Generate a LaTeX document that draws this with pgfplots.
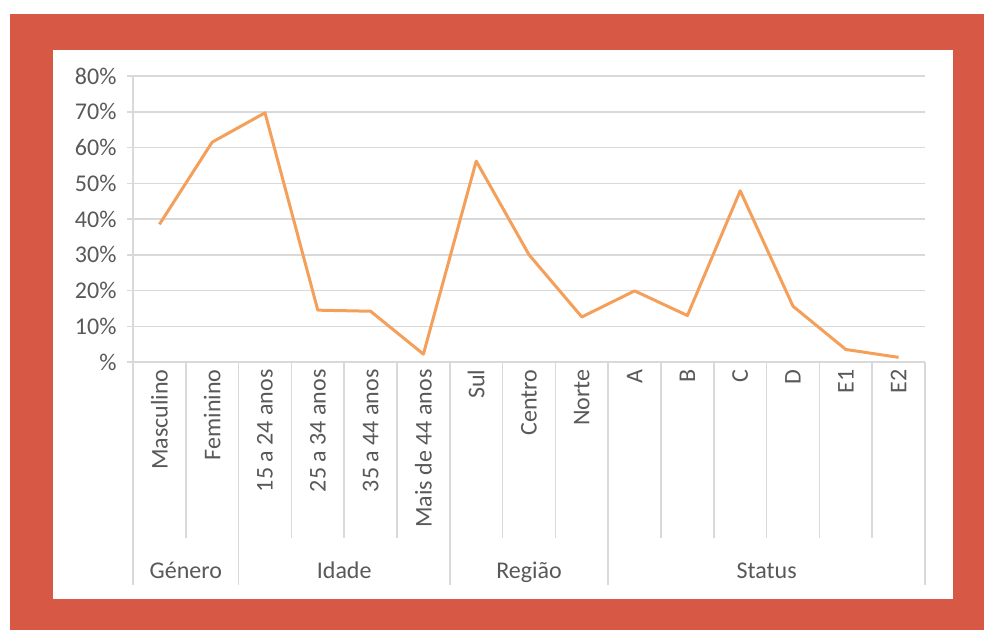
\documentclass[border=0pt]{standalone}
\usepackage{pgfplots}
\pgfplotsset{compat=1.18}
\usepackage{fontspec}
\setmainfont{Carlito}
\definecolor{frame}{HTML}{D75844}
\definecolor{txt}{HTML}{595959}
\definecolor{grd}{HTML}{D9D9D9}
\definecolor{ln}{HTML}{F5A05A}
\begin{document}
\begin{tikzpicture}[x=1pt,y=1pt]
\fill[white] (0,0) rectangle (984,630);
\fill[frame] (10,0) rectangle (984,616);
\fill[white] (53,31) rectangle (953,580);
\begin{axis}[at={(133pt,268pt)}, anchor=south west, scale only axis,
  width=792pt, height=286pt,
  xmin=-0.5, xmax=14.5, ymin=0, ymax=80, clip=false,
  axis x line*=bottom, axis y line*=left,
  axis line style={draw=grd, line width=1.5pt, -},
  ytick={0,10,...,80},
  yticklabels={\%,10\%,20\%,30\%,40\%,50\%,60\%,70\%,80\%},
  ymajorgrids, grid style={draw=grd, line width=1.5pt},
  major tick length=6pt, tick align=outside,
  ytick style={draw=grd, line width=1.5pt},
  xtick={0,...,14},
  xticklabels={Masculino,Feminino,15 a 24 anos,25 a 34 anos,35 a 44 anos,Mais de 44 anos,Sul,Centro,Norte,A,B,C,D,E1,E2},
  xtick style={draw=none},
  tick label style={font=\fontsize{24}{28}\selectfont, text=txt},
  yticklabel style={xshift=-7pt},
  xticklabel style={rotate=90, anchor=east, xshift=2pt},
]
\addplot[ln, line width=3pt, line join=round] coordinates {
(0,38.5) (1,61.5) (2,69.7) (3,14.5) (4,14.2) (5,2.2) (6,56.2) (7,30) (8,12.6)
(9,19.9) (10,13) (11,47.9) (12,15.6) (13,3.5) (14,1.3)};
\pgfplotsinvokeforeach{0.5,2.5,3.5,4.5,6.5,7.5,9.5,10.5,11.5,12.5,13.5}{
  \draw[grd, line width=1.5pt] (axis cs:#1,0) -- (axis cs:#1,-49.2);
}
\pgfplotsinvokeforeach{-0.5,1.5,5.5,8.5,14.5}{
  \draw[grd, line width=1.5pt] (axis cs:#1,0) -- (axis cs:#1,-62.4);
}
\node[text=txt, font=\fontsize{24}{28}\selectfont, anchor=base] at (axis cs:0.5,-60.5) {Género};
\node[text=txt, font=\fontsize{24}{28}\selectfont, anchor=base] at (axis cs:3.5,-60.5) {Idade};
\node[text=txt, font=\fontsize{24}{28}\selectfont, anchor=base] at (axis cs:7,-60.5) {Região};
\node[text=txt, font=\fontsize{24}{28}\selectfont, anchor=base] at (axis cs:11.5,-60.5) {Status};
\end{axis}
\end{tikzpicture}
\end{document}
